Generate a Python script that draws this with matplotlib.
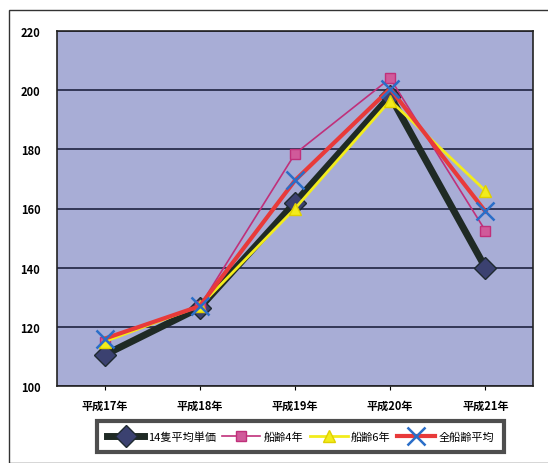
import matplotlib
matplotlib.use("Agg")
import matplotlib.pyplot as plt
from matplotlib.patches import Rectangle

plt.rcParams['font.family'] = ['Noto Sans CJK JP', 'DejaVu Sans']

years = ["平成17年", "平成18年", "平成19年", "平成20年", "平成21年"]
avg14 = [110.5, 126.5, 162, 198, 140]
age4 = [115, 127, 178.5, 204, 152.5]
age6 = [115, 127, 160, 196.5, 166]
all_avg = [116, 127, 169.5, 200.5, 159]
yticks = [100, 120, 140, 160, 180, 200, 220]

fig = plt.figure(figsize=(5.48, 4.64), dpi=100)
fig.patches.append(Rectangle((9 / 548, 0.0), 0.995, 1 - 11 / 464, transform=fig.transFigure,
                             fill=False, edgecolor="#333333", lw=1.0))
ax = fig.add_axes([57 / 548, 77 / 464, 476 / 548, 355 / 464])
ax.set_facecolor("#a8add6")

x = list(range(len(years)))

ax.plot(x, avg14, color="#1f2a25", lw=5, marker="D", markersize=11,
        markerfacecolor="#3b4170", markeredgecolor="#1f2a30", label="14隻平均単価", zorder=3)
ax.plot(x, age4, color="#c0307a", lw=1.2, marker="s", markersize=7,
        markerfacecolor="#d05a9a", markeredgecolor="#c0307a", label="船齢4年", zorder=4)
ax.plot(x, age6, color="#f2ec1c", lw=2, marker="^", markersize=9,
        markerfacecolor="#f2ec1c", markeredgecolor="#e0d000", label="船齢6年", zorder=4)
ax.plot(x, all_avg, color="#e83a3a", lw=3, marker="x", markersize=13, markeredgewidth=1.8,
        markeredgecolor="#2a6ec8", label="全船齢平均", zorder=5)

ax.set_xlim(-0.5, len(years) - 0.5)
ax.set_ylim(100, 220)
ax.set_yticks(yticks)
ax.set_xticks(x)
ax.set_xticklabels(years, fontsize=8, fontweight="bold")
ax.tick_params(axis="y", labelsize=8, length=0, pad=12)
ax.tick_params(axis="x", length=3, pad=6)
for lbl in ax.get_yticklabels():
    lbl.set_fontweight("bold")
ax.yaxis.grid(True, color="#1e2240", lw=1.2)
ax.set_axisbelow(True)
for s in ax.spines.values():
    s.set_color("#222222")
    s.set_linewidth(1.2)

leg = fig.legend(loc="lower center", bbox_to_anchor=(0.548, 0.012), ncol=4, fontsize=8,
                 frameon=True, fancybox=False, edgecolor="#222222", handlelength=3.4,
                 columnspacing=0.6, handletextpad=0.3, borderpad=0.9)
leg.get_frame().set_linewidth(3)

fig.savefig("out.png", dpi=100)
